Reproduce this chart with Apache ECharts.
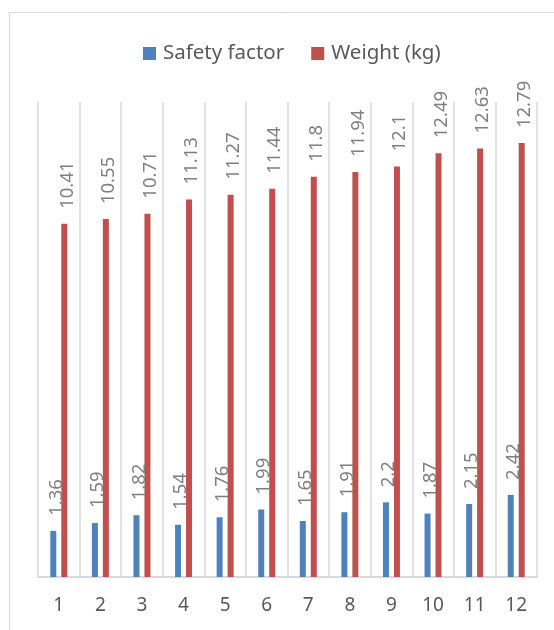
<!DOCTYPE html>
<html>
<head>
<meta charset="utf-8">
<script src="https://cdn.jsdelivr.net/npm/echarts@6/dist/echarts.min.js"></script>
<style>
  html, body { margin: 0; padding: 0; background: #ffffff; }
  #chart { width: 554px; height: 630px; }
</style>
</head>
<body>
<div id="chart"></div>
<script>
// Design samples 1-12
var categories = ['1', '2', '3', '4', '5', '6', '7', '8', '9', '10', '11', '12'];
var safetyFactor = [1.36, 1.59, 1.82, 1.54, 1.76, 1.99, 1.65, 1.91, 2.2, 1.87, 2.15, 2.42];
var weightKg = [10.41, 10.55, 10.71, 11.13, 11.27, 11.44, 11.8, 11.94, 12.1, 12.49, 12.63, 12.79];

var FONT = 'Noto Sans';
var GRID_GRAY = '#d9d9d9';

var valueLabel = {
  show: true,
  position: 'top',
  rotate: 90,
  align: 'left',
  verticalAlign: 'middle',
  distance: 15,
  offset: [0, 3],
  color: '#7f7f7f',
  fontFamily: FONT,
  fontSize: 18.5
};

var chart = echarts.init(document.getElementById('chart'), null, { renderer: 'canvas' });
chart.setOption({
  animation: false,
  backgroundColor: '#ffffff',
  textStyle: { fontFamily: FONT },
  graphic: [{
    type: 'rect',
    shape: { x: 9.5, y: 12.5, width: 700, height: 800 },
    style: { fill: 'none', stroke: GRID_GRAY, lineWidth: 1 },
    silent: true
  }],
  legend: {
    left: 138,
    top: 38,
    itemWidth: 13,
    itemHeight: 13,
    itemGap: 27,
    icon: 'rect',
    textStyle: { color: '#595959', fontSize: 20.5, fontFamily: FONT, padding: [0, 0, 0, 2] },
    data: ['Safety factor', 'Weight (kg)']
  },
  grid: { left: 38, right: 17, top: 102, bottom: 53, containLabel: false },
  xAxis: {
    type: 'category',
    data: categories,
    axisTick: { show: false },
    axisLine: { lineStyle: { color: GRID_GRAY, width: 2 } },
    axisLabel: { color: '#595959', fontSize: 19, fontFamily: FONT, margin: 19 },
    splitLine: { show: true, lineStyle: { color: GRID_GRAY, width: 1.5 } }
  },
  yAxis: {
    type: 'value',
    min: 0,
    max: 14,
    show: false,
    splitLine: { show: false }
  },
  series: [{
    name: 'Safety factor',
    type: 'bar',
    data: safetyFactor,
    barWidth: 6,
    barGap: '83%',
    itemStyle: { color: '#4f81bd' },
    label: valueLabel
  }, {
    name: 'Weight (kg)',
    type: 'bar',
    data: weightKg,
    barWidth: 6,
    barGap: '83%',
    itemStyle: { color: '#c0504d' },
    label: valueLabel
  }]
});
</script>
</body>
</html>
